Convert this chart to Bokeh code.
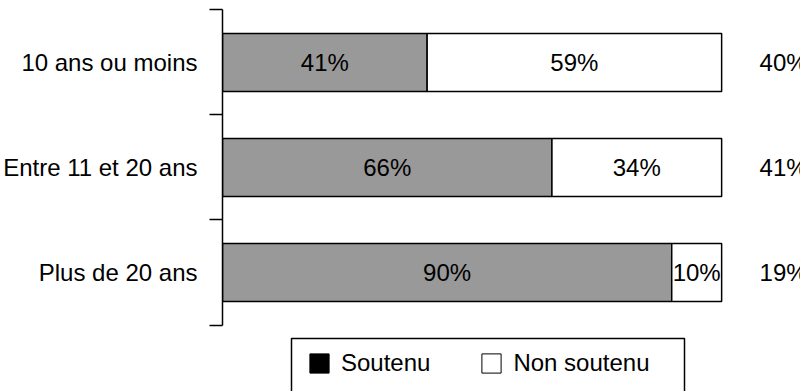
from bokeh.plotting import figure
from bokeh.models import (Range1d, FixedTicker, Legend, LegendItem, ColumnDataSource,
                          LinearAxis, BoxAnnotation)
from bokeh.core.properties import value
from bokeh.embed import file_html
from bokeh.resources import INLINE

# ---- data ----
categories = ["10 ans ou moins", "Entre 11 et 20 ans", "Plus de 20 ans"]
soutenu = [41, 66, 90]
non_soutenu = [59, 34, 10]
part = [40, 41, 19]
series = ["Soutenu", "Non soutenu"]

FONT = "Liberation Sans"
FS = "24px"
GRAY = "#999999"

n = len(categories)
ypos = [n - i - 0.5 for i in range(n)]
total = [a + b for a, b in zip(soutenu, non_soutenu)]

p = figure(width=800, height=391, output_backend="svg", toolbar_location=None,
           x_range=Range1d(0, 115.8), y_range=Range1d(-0.633, 3.090),
           x_axis_location=None, y_axis_location=None, title_location=None,
           min_border_left=221, min_border_right=0, min_border_top=0, min_border_bottom=0)
p.outline_line_color = None
p.grid.visible = False
p.background_fill_color = "white"

ax = LinearAxis(ticker=FixedTicker(ticks=ypos, minor_ticks=list(range(n + 1))))
ax.bounds = (0, n)
ax.major_tick_out = 0
ax.major_tick_in = 0
ax.minor_tick_out = 13
ax.minor_tick_in = 0
ax.minor_tick_line_color = "black"
ax.minor_tick_line_width = 1.5
ax.axis_line_color = "black"
ax.axis_line_width = 1.5
ax.major_label_overrides = {ypos[i]: categories[i] for i in range(n)}
ax.major_label_standoff = 12
ax.major_label_text_font = FONT
ax.major_label_text_font_size = FS
ax.major_label_text_color = "black"
p.add_layout(ax, "left")

src = ColumnDataSource(dict(
    y=ypos, s=soutenu, ns=non_soutenu, tot=total,
    s_mid=[v / 2 for v in soutenu],
    ns_mid=[a + b / 2 for a, b in zip(soutenu, non_soutenu)],
    s_lab=[f"{v}%" for v in soutenu],
    ns_lab=[f"{v}%" for v in non_soutenu],
    part_lab=[f"{v}%" for v in part],
))

BAR_H = 0.552
p.hbar(y="y", left=0, right="s", height=BAR_H, fill_color=GRAY,
       line_color="black", line_width=1.5, source=src)
p.hbar(y="y", left="s", right="tot", height=BAR_H, fill_color="white",
       line_color="black", line_width=1.5, source=src)

txt = dict(text_font=value(FONT), text_font_size=FS, text_color="black",
           text_baseline="middle", source=src)
p.text(x="s_mid", y="y", text="s_lab", text_align="center", **txt)
p.text(x="ns_mid", y="y", text="ns_lab", text_align="center", **txt)
p.text(x=107.6, y="y", text="part_lab", text_align="left", **txt)

# legend swatches: zero-width bars sitting on the axis line (invisible in the plot)
r1 = p.hbar(y="y", left=0, right=0, height=BAR_H, fill_color="black",
            line_color="black", line_width=1, source=src)
r2 = p.hbar(y="y", left=0, right=0, height=BAR_H, fill_color="white",
            line_color="black", line_width=1, source=src)
leg = Legend(items=[LegendItem(label=series[0], renderers=[r1]),
                    LegendItem(label=series[1], renderers=[r2])],
             orientation="horizontal", location=(85, 14), margin=0, padding=0,
             border_line_color=None, background_fill_alpha=0,
             label_text_font=FONT, label_text_font_size=FS, label_text_color="black",
             glyph_width=24, glyph_height=24, label_standoff=10, spacing=49,
             label_height=24)
p.add_layout(leg, "center")

box = BoxAnnotation(left=69, right=462, top=53, bottom=-10,
                    left_units="screen", right_units="screen",
                    top_units="screen", bottom_units="screen",
                    fill_alpha=0, line_color="black", line_width=1.5, line_alpha=1)
p.add_layout(box)

open("out.html", "w").write(file_html(p, INLINE))
